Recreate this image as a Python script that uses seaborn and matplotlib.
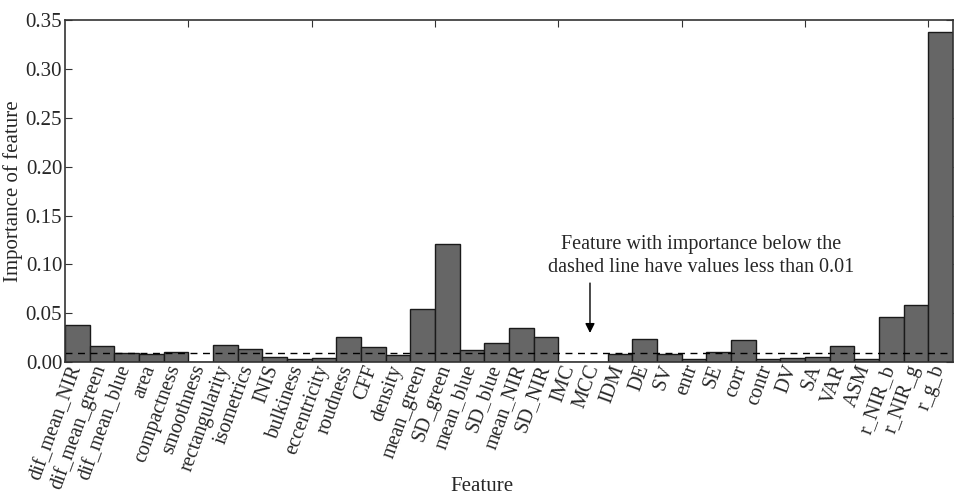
import matplotlib
matplotlib.use("Agg")
import matplotlib.pyplot as plt
import matplotlib.transforms as mtransforms
import seaborn as sns
import pandas as pd

features = ["dif_mean_NIR", "dif_mean_green", "dif_mean_blue", "area", "compactness",
            "smoothness", "rectangularity", "isometrics", "INIS", "bulkiness",
            "eccentricity", "roudness", "CFF", "density", "mean_green", "SD_green",
            "mean_blue", "SD_blue", "mean_NIR", "SD_NIR", "IMC", "MCC", "IDM", "DE",
            "SV", "entr", "SE", "corr", "contr", "DV", "SA", "VAR", "ASM",
            "r_NIR_b", "r_NIR_g", "r_g_b"]
importance = [0.038, 0.0166, 0.0095, 0.009, 0.0108,
              0.0, 0.018, 0.0133, 0.0057, 0.0037,
              0.004, 0.026, 0.0153, 0.0075, 0.0544, 0.1214,
              0.0126, 0.0197, 0.0347, 0.026, 0.0, 0.0, 0.0082, 0.0238,
              0.0082, 0.003, 0.0101, 0.023, 0.003, 0.004, 0.0054, 0.017, 0.003,
              0.046, 0.0588, 0.338]
threshold = 0.01
y_ticks = [0.00, 0.05, 0.10, 0.15, 0.20, 0.25, 0.30, 0.35]

df = pd.DataFrame({"Feature": features, "Importance": importance})

sns.set_theme(style="white")
plt.rcParams["font.family"] = ["Liberation Serif", "DejaVu Serif"]
plt.rcParams["xtick.direction"] = "in"
plt.rcParams["ytick.direction"] = "in"

fig = plt.figure(figsize=(9.56, 4.95), dpi=100)
ax = fig.add_axes([0.068, 0.268, 0.929, 0.692])

sns.barplot(data=df, x="Feature", y="Importance", color="#666666", saturation=1,
            width=1.0, edgecolor="#1a1a1a", linewidth=1.0, ax=ax)

ax.axhline(threshold, color="black", linestyle=(0, (5, 4)), linewidth=1.0)

ax.set_xlim(-0.5, len(features) - 0.5)
ax.set_ylim(0, 0.35)
ax.set_yticks(y_ticks)
ax.set_yticklabels([f"{v:.2f}" for v in y_ticks], fontsize=15)
ax.tick_params(axis="y", which="both", left=True, right=True, length=5, width=0.8,
               color="#333333", pad=2)
ax.tick_params(axis="x", bottom=False, length=0, pad=0)
ax.set_xticks(range(len(features)))
ax.set_xticklabels(features, rotation=70, ha="right", fontsize=14.5,
                   rotation_mode="default")
shift = mtransforms.ScaledTranslation(8 / 100, 0, fig.dpi_scale_trans)
for lbl in ax.get_xticklabels():
    lbl.set_transform(lbl.get_transform() + shift)

top = ax.secondary_xaxis("top")
top.set_xticks([4.5, 9.5, 14.5, 19.5, 24.5, 29.5, 34.5])
top.tick_params(direction="in", length=5, width=0.8, color="#333333", labeltop=False)
top.set_xticklabels([])
for s in top.spines.values():
    s.set_visible(False)

for s in ax.spines.values():
    s.set_visible(True)
    s.set_color("#333333")
    s.set_linewidth(1.2)

ax.set_xlabel("Feature", fontsize=15)
ax.xaxis.set_label_coords(0.47, -0.335)
ax.set_ylabel("Importance of feature", fontsize=15, labelpad=2)

ax.text(25.3, 0.109, "Feature with importance below the\ndashed line have values less than 0.01",
        ha="center", va="center", fontsize=14.5, linespacing=1.3)
ax.annotate("", xy=(20.78, 0.030), xytext=(20.78, 0.081), textcoords="data",
            arrowprops=dict(arrowstyle="-|>", color="black", lw=1.0,
                            shrinkA=0, shrinkB=0, mutation_scale=14))

fig.savefig("out.png", dpi=100)
